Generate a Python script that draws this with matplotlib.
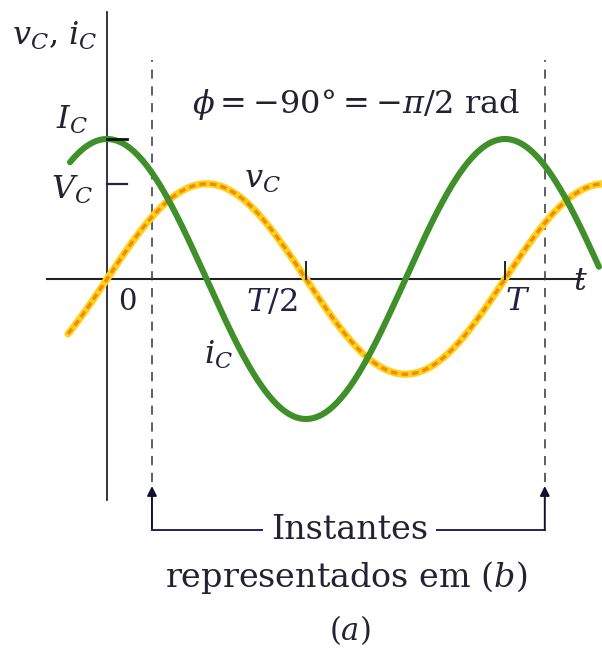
import numpy as np
import matplotlib.pyplot as plt
from matplotlib.patches import FancyArrowPatch

plt.rcParams['font.family'] = 'DejaVu Serif'
plt.rcParams['mathtext.fontset'] = 'dejavuserif'

# signal parameters (time in units of T, amplitudes relative to I_C)
period = 1.0
I_amp = 1.0
V_amp = 0.68
phase = -np.pi / 2          # phase of v_C relative to i_C
t_start, t_end = -0.098, 1.244
t_start_i, t_end_i = -0.093, 1.236
window = [0.113, 1.10]      # instants shown in (b)
tick_pos = [0.5, 1.0]
tick_labels = ['$T/2$', '$T$']
tick_label_x = [272, 518]   # label centres (px)

# pixel -> data helpers for placing annotations
X0, SX = 107, 398.0
Y0, SY = 279, 140.0
def px(x):
    return (x - X0) / SX
def py(y):
    return (Y0 - y) / SY

fig = plt.figure(figsize=(6.02, 6.54), dpi=100)
ax = fig.add_axes([0, 0, 1, 1])
ax.set_xlim(px(0), px(602))
ax.set_ylim(py(654), py(0))
ax.axis('off')

# axes
ax.plot([0, 0], [py(500), py(12)], color='#222233', lw=1.3)
ax.plot([px(47), px(583)], [0, 0], color='#222222', lw=1.5)

# dashed window markers
for tw in window:
    ax.plot([tw, tw], [py(482), py(60)], color='#333344', lw=1.1,
            dashes=(6, 5))

# curves
t_v = np.linspace(t_start, t_end, 400)
v = V_amp * np.sin(2 * np.pi * t_v / period)
t_i = np.linspace(t_start_i, t_end_i, 400)
i = I_amp * np.sin(2 * np.pi * t_i / period - phase)

ax.plot(t_v, v, color='#ffd21a', lw=5.2, solid_capstyle='round', zorder=3)
ax.plot(t_v, v, color='#f08a10', lw=2.4, ls=(0, (2, 1.2)), zorder=3.1)
ax.plot(t_i, i, color='#3f8f2a', lw=4.4, solid_capstyle='round', zorder=4)

# amplitude ticks and time ticks
ax.plot([0, px(127)], [I_amp, I_amp], color='#111111', lw=2.0, zorder=5)
ax.plot([0, px(127)], [V_amp, V_amp], color='#222244', lw=1.6, zorder=5)
for tp in tick_pos:
    ax.plot([tp, tp], [0, py(262)], color='#222222', lw=1.4, zorder=5)

fs = 23
ax.text(px(55), py(36), '$v_C$, $i_C$', fontsize=fs, ha='center', va='center',
        color='#222233')
ax.text(px(72), py(120), '$I_C$', fontsize=fs, ha='center', va='center',
        color='#222233')
ax.text(px(72), py(190), '$V_C$', fontsize=fs, ha='center', va='center',
        color='#222233')
ax.text(px(127), py(302), '0', fontsize=fs - 2, ha='center', va='center',
        color='#222233')
for lx, lab in zip(tick_label_x, tick_labels):
    ax.text(px(lx), py(302), lab, fontsize=fs, ha='center', va='center',
            color='#222244')
ax.text(px(580), py(282), '$t$', fontsize=fs, ha='center', va='center',
        color='#222233')
ax.text(px(262), py(180), '$v_C$', fontsize=fs, ha='center', va='center',
        color='#222233')
ax.text(px(218), py(355), '$i_C$', fontsize=fs, ha='center', va='center',
        color='#222233')
ax.text(px(356), py(104), r'$\phi = -90\degree = -\pi/2$ rad', fontsize=23,
        ha='center', va='center', color='#222233')

# bracket with arrows pointing to the window
yb = py(530)
for tw, xe in zip(window, [px(262), px(437)]):
    ax.plot([tw, xe], [yb, yb], color='#222255', lw=1.4)
    ax.add_patch(FancyArrowPatch((tw, yb), (tw, py(486)), arrowstyle='-|>',
                                 mutation_scale=14, color='#111133', lw=1.4,
                                 shrinkA=0, shrinkB=0))

ax.text(px(350), yb, 'Instantes', fontsize=24, ha='center', va='center',
        color='#222233')
ax.text(px(346), py(578), 'representados em $(b)$', fontsize=24,
        ha='center', va='center', color='#222233')
ax.text(px(350), py(630), '$(a)$', fontsize=22, ha='center', va='center',
        color='#222233')

fig.savefig('out.png', dpi=100)
